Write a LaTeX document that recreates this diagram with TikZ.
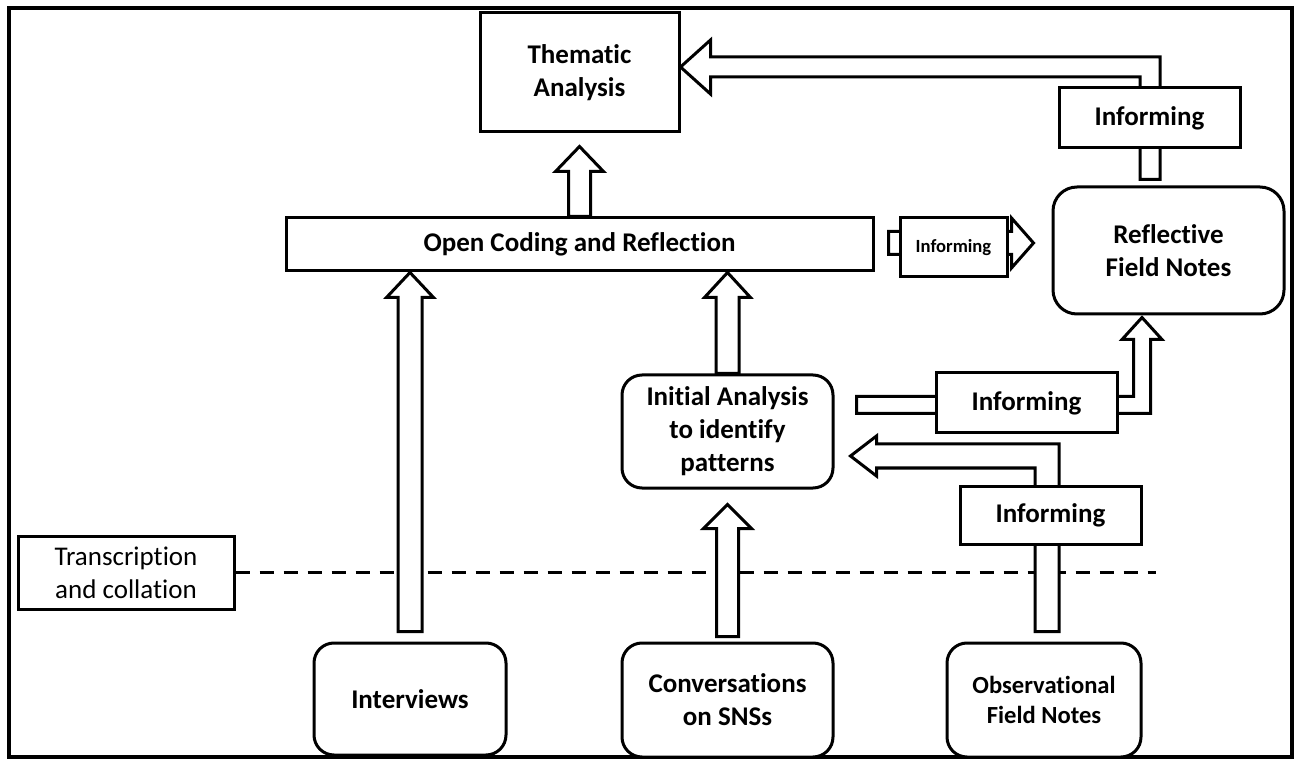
\documentclass[tikz,border=0pt]{standalone}
\usepackage{fontspec}
\setmainfont{Carlito}[Ligatures=NoCommon]
\usetikzlibrary{calc}
\tikzset{
  box/.style={draw, line width=1.5pt, fill=white, inner sep=0pt, align=center,
    font=\bfseries\fontsize{13.5}{16.5}\selectfont},
  rbox/.style={box, rounded corners=10pt},
  barrow/.style={draw, line width=1.5pt, fill=white, line join=miter},
  dashline/.style={line width=1.6pt, dash pattern=on 7pt off 5pt},
  frame/.style={line width=2pt},
}
% vertical block arrow, upwards: start, tip, half shaft, half head, head length
\newcommand\vblock[5]{%
  \draw[barrow] let \p1=(#1), \p2=(#2) in
    (\x1-#3,\y1) -- (\x1-#3,\y2-#5) -- (\x1-#4,\y2-#5) -- (\x1,\y2)
    -- (\x1+#4,\y2-#5) -- (\x1+#3,\y2-#5) -- (\x1+#3,\y1) -- cycle;}
% horizontal block arrow, rightwards
\newcommand\hblock[5]{%
  \draw[barrow] let \p1=(#1), \p2=(#2) in
    (\x1,\y1+#3) -- (\x2-#5,\y1+#3) -- (\x2-#5,\y1+#4) -- (\x2,\y1)
    -- (\x2-#5,\y1-#4) -- (\x2-#5,\y1-#3) -- (\x1,\y1-#3) -- cycle;}
% up then left
\newcommand\ulblock[5]{%
  \draw[barrow] let \p1=(#1), \p2=(#2) in
    (\x1-#3,\y1) -- (\x1-#3,\y2-#3) -- (\x2+#5,\y2-#3) -- (\x2+#5,\y2-#4)
    -- (\x2,\y2) -- (\x2+#5,\y2+#4) -- (\x2+#5,\y2+#3) -- (\x1+#3,\y2+#3)
    -- (\x1+#3,\y1) -- cycle;}
% right then up
\newcommand\rublock[5]{%
  \draw[barrow] let \p1=(#1), \p2=(#2) in
    (\x1,\y1+#3) -- (\x2-#3,\y1+#3) -- (\x2-#3,\y2-#5) -- (\x2-#4,\y2-#5)
    -- (\x2,\y2) -- (\x2+#4,\y2-#5) -- (\x2+#3,\y2-#5) -- (\x2+#3,\y1-#3)
    -- (\x1,\y1-#3) -- cycle;}
\begin{document}
\begin{tikzpicture}[x=0.5pt, y=-0.5pt]
\useasboundingbox (0,0) rectangle (1297,759);
\draw[frame] (9,8) rectangle (1292,757);

% boxes
\node[box, minimum width=99.5pt, minimum height=59.5pt] (thematic) at (579.5,72.5) {Thematic\\Analysis};
\node[box, minimum width=293.5pt, minimum height=26.5pt] (open) at (579.5,244.5) {Open Coding and Reflection};
\node[rbox, rounded corners=12pt, minimum width=115.5pt, minimum height=63.5pt] (reflective) at (1168.5,250.5) {Reflective\\Field Notes};
\node[rbox, minimum width=105.5pt, minimum height=56.5pt] (initial) at (727.5,431.5) {Initial Analysis\\to identify\\patterns};
\node[rbox, minimum width=96pt, minimum height=56pt] (interviews) at (410,699) {Interviews};
\node[rbox, minimum width=105.5pt, minimum height=57pt] (conv) at (727.5,700) {Conversations\\on SNSs};
\node[rbox, minimum width=97pt, minimum height=57pt,
  font=\bfseries\fontsize{12.3}{15}\selectfont] (obs) at (1044,700) {Observational\\Field Notes};
\node[box, minimum width=108pt, minimum height=36.5pt,
  font=\fontsize{13.5}{16.5}\selectfont] (trans) at (126,572.5) {Transcription\\and collation};

% dashed line
\coordinate (dashend) at (1156,572.5);
\draw[dashline] (trans.east) -- (dashend);

% arrow anchor points
\coordinate (aAt) at ($(thematic.south)+(0,13)$);
\coordinate (aBs) at ($(interviews.north)+(0,-10)$);
\coordinate (aBt) at (interviews.north |- open.south);
\coordinate (aCt) at (initial.north |- open.south);
\coordinate (aDs) at ($(conv.north)+(0,-5)$);
\coordinate (aDt) at ($(initial.south)+(0,15)$);
\coordinate (aEs) at ($(obs.north)+(3,-10)$);
\coordinate (aEt) at ($(initial.east)+(16,24.5)$);
\coordinate (aFs) at ($(initial.east)+(22,-26.5)$);
\coordinate (aFt) at ($(reflective.south)+(-26.5,2)$);
\coordinate (aGs) at ($(open.east)+(14,-1.5)$);
\coordinate (aGt) at ($(reflective.west)+(-18,-7.5)$);
\coordinate (aHs) at ($(reflective.north)+(-18.5,-6)$);
\coordinate (aHt) at ($(thematic.east)+(0,-5.5)$);

% block arrows
\vblock{open.north}{aAt}{5.5pt}{12pt}{12.5pt}
\vblock{aBs}{aBt}{6pt}{11.75pt}{12.5pt}
\vblock{initial.north}{aCt}{5.75pt}{11.5pt}{12.5pt}
\vblock{aDs}{aDt}{5.5pt}{12pt}{12pt}
\ulblock{aEs}{aEt}{6pt}{10pt}{13pt}
\rublock{aFs}{aFt}{4.25pt}{10pt}{11pt}
\hblock{aGs}{aGt}{5.75pt}{12.5pt}{11pt}
\ulblock{aHs}{aHt}{5pt}{13.5pt}{15pt}

% informing labels over the arrows
\node[box, minimum width=90.5pt, minimum height=30pt] (inf1) at (1149.5,118) {Informing};
\node[box, minimum width=53.5pt, minimum height=29.5pt,
  font=\bfseries\fontsize{9.3}{11}\selectfont] (inf2) at (953.5,247.5) {Informing};
\node[box, minimum width=90.5pt, minimum height=30pt] (inf3) at (1026.5,403) {Informing};
\node[box, minimum width=90.5pt, minimum height=29pt] (inf4) at (1050.5,515) {Informing};
\end{tikzpicture}
\end{document}
